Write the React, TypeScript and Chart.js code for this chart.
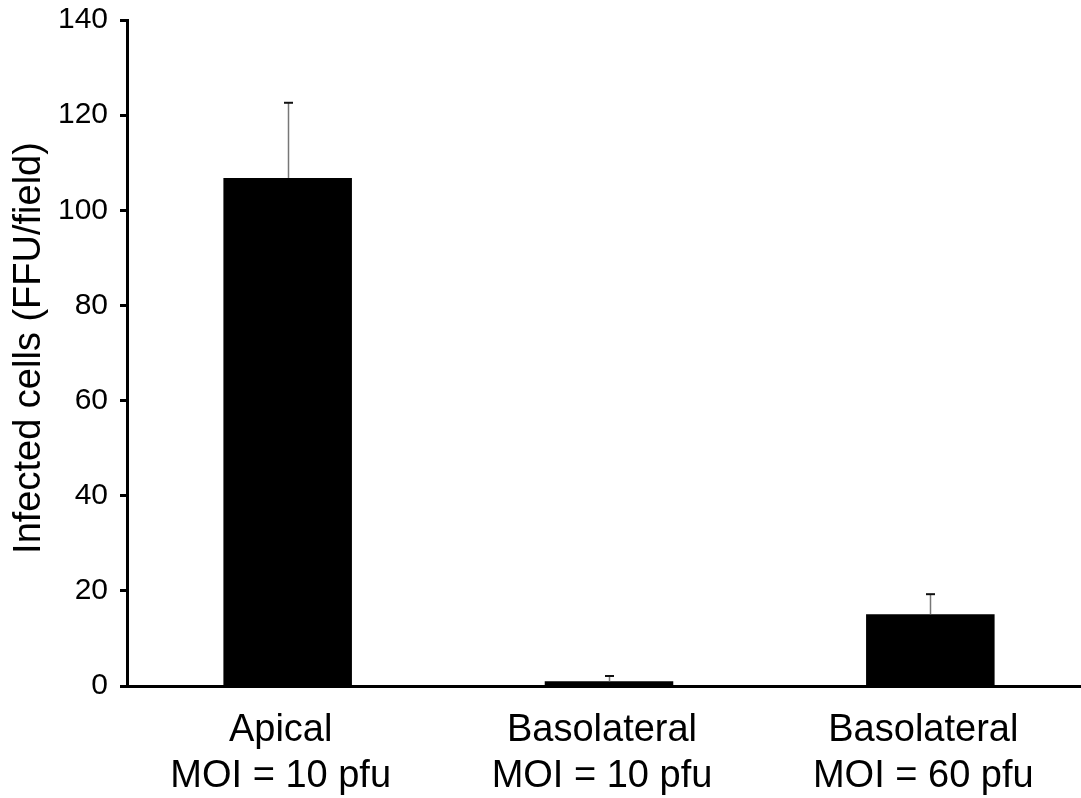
import React, { useEffect, useRef } from "react";
import { Chart, registerables } from "chart.js";

Chart.register(...registerables);

const categories: string[][] = [
  ["Apical", "MOI = 10 pfu"],
  ["Basolateral", "MOI = 10 pfu"],
  ["Basolateral", "MOI = 60 pfu"],
];
const values: number[] = [106.8, 1.0, 15.1];
const errors: number[] = [15.8, 1.1, 4.2];
const yTitle = "Infected cells (FFU/field)";
const FONT = "'Liberation Sans', Arial, sans-serif";

const errorBarPlugin = {
  id: "errorBars",
  afterDatasetsDraw(chart: any) {
    const ctx = chart.ctx;
    const meta = chart.getDatasetMeta(0);
    const yScale = chart.scales.y;
    ctx.save();
    meta.data.forEach((bar: any, i: number) => {
      const x = Math.round(bar.x) + 0.5;
      const yTop = yScale.getPixelForValue(values[i] + errors[i]);
      const yBase = yScale.getPixelForValue(values[i]);
      ctx.strokeStyle = "#777777";
      ctx.lineWidth = 1.5;
      ctx.beginPath();
      ctx.moveTo(x, yBase);
      ctx.lineTo(x, yTop);
      ctx.stroke();
      ctx.strokeStyle = "#111111";
      ctx.lineWidth = 2;
      ctx.beginPath();
      ctx.moveTo(x - 4.5, yTop);
      ctx.lineTo(x + 4.5, yTop);
      ctx.stroke();
    });
    ctx.restore();
  },
};

const yTitlePlugin = {
  id: "yTitle",
  afterDraw(chart: any) {
    const ctx = chart.ctx;
    ctx.save();
    ctx.translate(30, 348);
    ctx.rotate(-Math.PI / 2);
    ctx.fillStyle = "#000000";
    ctx.font = `38px ${FONT}`;
    ctx.textAlign = "center";
    ctx.textBaseline = "middle";
    ctx.fillText(yTitle, 0, 0);
    ctx.restore();
  },
};

export default function App() {
  const ref = useRef<HTMLCanvasElement | null>(null);
  useEffect(() => {
    if (!ref.current) return;
    const chart = new Chart(ref.current, {
      type: "bar",
      data: {
        labels: categories,
        datasets: [
          {
            data: values,
            backgroundColor: "#000000",
            borderWidth: 0,
            categoryPercentage: 1,
            barPercentage: 0.4,
          },
        ],
      },
      options: {
        responsive: false,
        animation: false,
        devicePixelRatio: 1,
        layout: { padding: { left: 0, right: 4, top: 20, bottom: 0 } },
        plugins: { legend: { display: false }, tooltip: { enabled: false } },
        scales: {
          x: {
            grid: { display: false, drawTicks: false },
            border: { display: true, color: "#000000", width: 3 },
            ticks: {
              color: "#000000",
              font: { family: FONT, size: 38, lineHeight: 1.2 },
              padding: 22,
              labelOffset: -7,
              maxRotation: 0,
              autoSkip: false,
            },
            afterFit: (scale: any) => {
              scale.height = 112;
              scale.paddingLeft = 0;
              scale.paddingRight = 0;
            },
          },
          y: {
            min: 0,
            max: 140,
            grid: {
              display: true,
              drawOnChartArea: false,
              drawTicks: true,
              tickLength: 7,
              tickWidth: 3,
              tickColor: "#000000",
              color: "#000000",
            },
            border: { display: true, color: "#000000", width: 3 },
            ticks: {
              stepSize: 20,
              color: "#000000",
              font: { family: FONT, size: 30 },
              padding: 12,
            },
            afterFit: (scale: any) => {
              scale.width = 127;
              scale.paddingTop = 0;
              scale.paddingBottom = 0;
            },
          },
        },
      },
      plugins: [errorBarPlugin, yTitlePlugin],
    });
    return () => chart.destroy();
  }, []);
  return (
    <div style={{ position: "fixed", left: 0, top: 0, width: 1081, height: 798, overflow: "hidden", background: "#fff" }}>
      <canvas ref={ref} width={1095} height={798} style={{ display: "block" }} />
    </div>
  );
}
